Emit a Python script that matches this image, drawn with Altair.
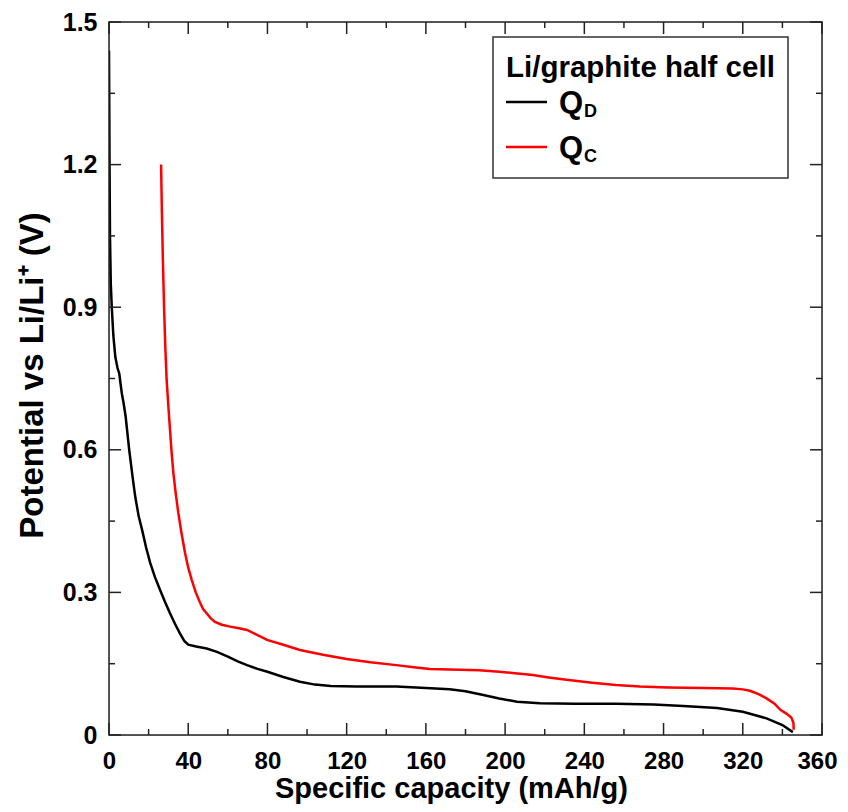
import altair as alt
import pandas as pd

# ---- data ----
qd_cap = [0, 0.1, 0.25, 0.5, 0.9, 1.4, 2.2, 3.2, 4.3, 5.2, 5.8, 6.5, 7.3, 8.4, 10.2, 12.0, 13.3,
          15.0, 16.8, 18.7, 20.8, 23.2, 25.8, 28.3, 30.8, 33.3, 35.8, 38.0, 40.0, 44.0, 49.3,
          54.5, 60.0, 65.0, 69.7, 75.0, 80.0, 88.0, 96.4, 104.0, 112.0, 125.0, 145.0, 160.0,
          172.0, 180.0, 189.0, 197.0, 206.0, 217.6, 235.0, 256.0, 275.0, 290.0, 307.0, 320.0,
          332.0, 340.0, 345.3]
qd_pot = [1.44, 1.36, 1.22, 1.05, 0.95, 0.90, 0.84, 0.795, 0.772, 0.76, 0.74, 0.718, 0.70, 0.67,
          0.60, 0.54, 0.50, 0.46, 0.43, 0.395, 0.362, 0.332, 0.305, 0.28, 0.256, 0.234, 0.214,
          0.198, 0.19, 0.186, 0.182, 0.175, 0.165, 0.155, 0.147, 0.139, 0.133, 0.122, 0.112,
          0.106, 0.103, 0.102, 0.102, 0.099, 0.096, 0.092, 0.084, 0.077, 0.070, 0.067, 0.066,
          0.066, 0.064, 0.061, 0.057, 0.049, 0.035, 0.021, 0.006]

qc_cap = [26.3, 26.7, 27.2, 27.8, 28.4, 29.1, 30.0, 30.8, 31.6, 32.5, 33.7, 35.0, 36.6, 38.4,
          40.0, 41.8, 43.8, 46.0, 47.5, 49.3, 51.3, 53.5, 57.0, 61.1, 65.0, 69.7, 74.0, 79.8,
          88.0, 96.4, 108.0, 120.0, 132.0, 145.0, 155.0, 162.0, 172.0, 187.0, 197.0, 205.0,
          214.0, 222.0, 231.0, 244.0, 256.0, 268.0, 282.0, 300.0, 315.0, 320.0, 323.6, 328.0,
          332.0, 336.0, 339.0, 342.0, 344.5, 345.6, 345.7]
qc_pot = [1.20, 1.10, 1.00, 0.90, 0.82, 0.747, 0.69, 0.642, 0.595, 0.551, 0.508, 0.467, 0.425,
          0.383, 0.352, 0.326, 0.30, 0.278, 0.265, 0.256, 0.246, 0.238, 0.232, 0.228, 0.225,
          0.221, 0.212, 0.20, 0.19, 0.179, 0.169, 0.16, 0.153, 0.147, 0.142, 0.139, 0.138,
          0.136, 0.133, 0.13, 0.126, 0.121, 0.116, 0.11, 0.105, 0.102, 0.10, 0.099, 0.098,
          0.096, 0.093, 0.086, 0.077, 0.066, 0.053, 0.045, 0.037, 0.025, 0.011]

series_names = ["Q_D", "Q_C"]
series_colors = ["#000000", "#ff0000"]
legend_title = "Li/graphite half cell"
legend_main = ["Q", "Q"]
legend_sub = ["D", "C"]

x_major = [0, 40, 80, 120, 160, 200, 240, 280, 320, 360]
x_minor = [20, 60, 100, 140, 180, 220, 260, 300, 340]
y_major = [0, 0.3, 0.6, 0.9, 1.2, 1.5]
y_minor = [0.15, 0.45, 0.75, 1.05, 1.35]

x_title = "Specific capacity (mAh/g)"
y_title = "Potential vs Li/Li\u207a (V)"

# ---- layout / style ----
W = H = 713
FONT = "Liberation Sans"
AX = "#222222"

rows = []
for i, (c, p) in enumerate(zip(qd_cap, qd_pot)):
    rows.append({"cap": c, "pot": p, "series": series_names[0], "i": i})
for i, (c, p) in enumerate(zip(qc_cap, qc_pot)):
    rows.append({"cap": c, "pot": p, "series": series_names[1], "i": i})
df = pd.DataFrame(rows)

xs = alt.Scale(domain=[0, 360], nice=False, zero=False)
ys = alt.Scale(domain=[0, 1.5], nice=False, zero=False)

lines = alt.Chart(df).mark_line(strokeWidth=2.5, clip=True).encode(
    x=alt.X("cap:Q", scale=xs, axis=alt.Axis(
        values=x_major, title=x_title, grid=False, ticks=False, domain=False,
        labelFont=FONT, labelFontSize=24, labelFontWeight="bold", labelColor="black",
        labelPadding=14, labelFlush=False, labelOverlap=False,
        labelOffset={"condition": {"test": "datum.value == 360", "value": -5}, "value": 0},
        titleFont=FONT, titleFontSize=29, titleFontWeight="bold", titleColor="black",
        titleX=342, titleY=62, titleBaseline="alphabetic", titleAlign="center")),
    y=alt.Y("pot:Q", scale=ys, axis=alt.Axis(
        values=y_major, title=y_title, grid=False, ticks=False, domain=False,
        labelExpr="datum.value == 0 ? '0' : format(datum.value, '.1f')",
        labelFont=FONT, labelFontSize=25, labelFontWeight="bold", labelColor="black",
        labelPadding=12, labelFlush=False, labelOverlap=False,
        titleFont=FONT, titleFontSize=33, titleFontWeight="bold", titleColor="black",
        titleX=-67, titleY=353, titleAngle=270, titleBaseline="alphabetic", titleAlign="center")),
    color=alt.Color("series:N", scale=alt.Scale(domain=series_names, range=series_colors), legend=None),
    order="i:Q",
)

# plot frame
frame = alt.Chart(pd.DataFrame({"f": [0]})).mark_rect(
    fill=None, fillOpacity=0, stroke=AX, strokeWidth=1.5
).encode(x=alt.value(0), x2=alt.value(W), y=alt.value(0), y2=alt.value(H))

def xticks(vals, length, top):
    base = alt.Chart(pd.DataFrame({"cap": vals})).mark_rule(color=AX, strokeWidth=1.5)
    if top:
        return base.encode(x=alt.X("cap:Q", scale=xs), y=alt.value(0), y2=alt.value(length))
    return base.encode(x=alt.X("cap:Q", scale=xs), y=alt.value(H), y2=alt.value(H - length))

def yticks(vals, length, right):
    base = alt.Chart(pd.DataFrame({"pot": vals})).mark_rule(color=AX, strokeWidth=1.5)
    if right:
        return base.encode(y=alt.Y("pot:Q", scale=ys), x=alt.value(W), x2=alt.value(W - length))
    return base.encode(y=alt.Y("pot:Q", scale=ys), x=alt.value(0), x2=alt.value(length))

ticks = [
    xticks(x_major, 12, False), xticks(x_minor, 6, False),
    xticks(x_major, 12, True), xticks(x_minor, 6, True),
    yticks(y_major, 12, False), yticks(y_minor, 6, False),
    yticks(y_major, 12, True), yticks(y_minor, 6, True),
]

# ---- legend (drawn manually, for the subscripts) ----
leg_df = pd.DataFrame({"t": [legend_title]})
box = alt.Chart(leg_df).mark_rect(fill="white", stroke="#333333", strokeWidth=1.5).encode(
    x=alt.value(384), x2=alt.value(679), y=alt.value(15), y2=alt.value(156))
ltitle = alt.Chart(leg_df).mark_text(
    font=FONT, fontSize=29.5, fontWeight="bold", align="left", baseline="alphabetic", color="black"
).encode(x=alt.value(397), y=alt.value(55), text="t:N")

legend_layers = [box, ltitle]
row_y = [80, 125]
for k in range(2):
    ldf = pd.DataFrame({"m": [legend_main[k]], "s": [legend_sub[k]]})
    legend_layers.append(alt.Chart(ldf).mark_rule(color=series_colors[k], strokeWidth=2.5).encode(
        x=alt.value(397), x2=alt.value(438), y=alt.value(row_y[k])))
    legend_layers.append(alt.Chart(ldf).mark_text(
        font=FONT, fontSize=31, fontWeight="bold", align="left", baseline="alphabetic", color="black"
    ).encode(x=alt.value(450), y=alt.value(row_y[k] + 11), text="m:N"))
    legend_layers.append(alt.Chart(ldf).mark_text(
        font=FONT, fontSize=18, fontWeight="bold", align="left", baseline="alphabetic", color="black"
    ).encode(x=alt.value(475), y=alt.value(row_y[k] + 15), text="s:N"))

chart = alt.layer(lines, frame, *ticks, *legend_layers).properties(
    width=W, height=H,
    autosize=alt.AutoSizeParams(type="none"),
    padding={"left": 101, "top": 14, "right": 16, "bottom": 69},
).configure_view(stroke=None).configure(background="white")

chart.save("out.html", embed_options={"renderer": "svg", "actions": False})
